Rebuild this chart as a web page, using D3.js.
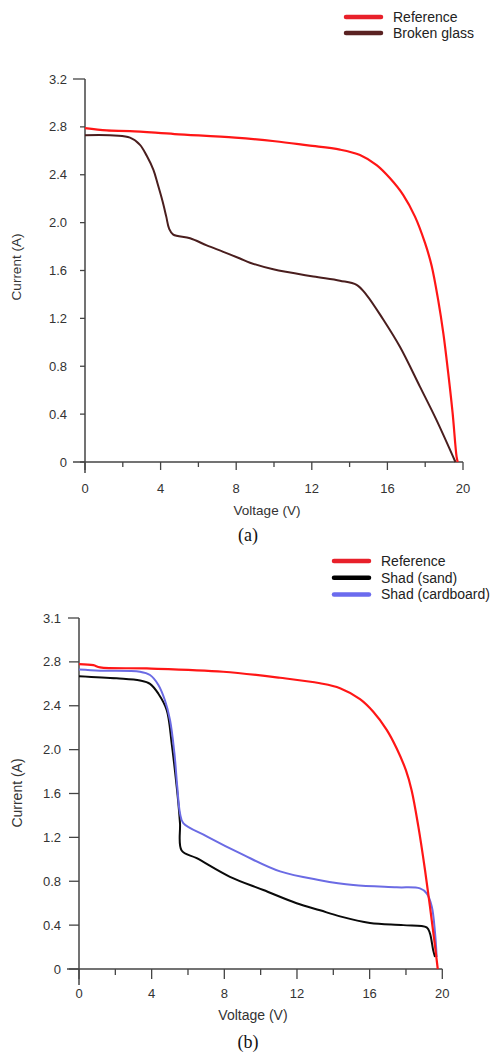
<!DOCTYPE html>
<html><head><meta charset="utf-8">
<script src="https://cdn.jsdelivr.net/npm/d3@7"></script>
<style>body{margin:0;background:#fff}svg{display:block}</style>
</head><body>
<svg id="c" width="491" height="1052"></svg>
<script>
// ---- Data: chart (a) ----
const voltsRefA = [0, 1.15, 2.38, 4.74, 7.94, 10.05, 11.8, 13.49, 14.55, 15.43, 16.14, 16.84, 17.46, 17.99, 18.34, 18.69, 18.96, 19.22, 19.45, 19.66, 19.72];
const currRefA  = [2.79, 2.77, 2.765, 2.74, 2.71, 2.68, 2.645, 2.61, 2.565, 2.48, 2.37, 2.23, 2.05, 1.83, 1.64, 1.35, 1.075, 0.74, 0.41, 0.045, 0];
const voltsGlass = [0, 2.38, 2.91, 3.26, 3.62, 3.85, 4.1, 4.3, 4.45, 4.67, 5.56, 6.44, 7.32, 8.2, 8.73, 9.96, 12.08, 13.49, 14.37, 14.9, 15.78, 16.67, 17.72, 18.6, 19.6];
const currGlass  = [2.73, 2.71, 2.65, 2.56, 2.44, 2.32, 2.18, 2.05, 1.95, 1.90, 1.87, 1.81, 1.756, 1.70, 1.665, 1.61, 1.55, 1.515, 1.48, 1.395, 1.19, 0.96, 0.63, 0.35, 0];
const xTicksA = [0, 4, 8, 12, 16, 20];
const xMinorA = [2, 6, 10, 14, 18];
const yTicksA = [0, 0.4, 0.8, 1.2, 1.6, 2.0, 2.4, 2.8, 3.2];
const yLabelsA = ["0", "0.4", "0.8", "1.2", "1.6", "2.0", "2.4", "2.8", "3.2"];
const seriesNamesA = ["Reference", "Broken glass"];

// ---- Data: chart (b) ----
const voltsRefB = [0, 0.79, 1.16, 3.73, 7.94, 11.07, 13.27, 14.37, 15.47, 16.2, 16.94, 17.49, 18.0, 18.31, 18.68, 19.05, 19.32, 19.56, 19.75];
const currRefB  = [2.78, 2.77, 2.75, 2.74, 2.71, 2.655, 2.605, 2.56, 2.46, 2.345, 2.18, 2.01, 1.81, 1.63, 1.30, 0.90, 0.57, 0.26, 0];
const voltsSand = [0, 2.07, 3.36, 3.91, 4.37, 4.83, 5.1, 5.28, 5.47, 5.56, 5.65, 6.48, 8.31, 10.15, 11.98, 13.27, 14.37, 16.02, 17.85, 19.14, 19.32, 19.5, 19.6];
const currSand  = [2.67, 2.65, 2.63, 2.60, 2.51, 2.36, 2.06, 1.81, 1.51, 1.33, 1.08, 1.01, 0.84, 0.72, 0.60, 0.535, 0.48, 0.42, 0.40, 0.38, 0.325, 0.17, 0.11];
const voltsCard = [0, 1.16, 3.36, 3.91, 4.37, 4.73, 5.01, 5.25, 5.41, 5.56, 5.74, 7.03, 9.05, 11.07, 13.27, 15.1, 17.49, 18.77, 19.14, 19.42, 19.6, 19.69];
const currCard  = [2.73, 2.72, 2.71, 2.68, 2.59, 2.45, 2.27, 1.97, 1.66, 1.42, 1.33, 1.21, 1.04, 0.89, 0.81, 0.765, 0.745, 0.735, 0.69, 0.57, 0.33, 0.11];
const xTicksB = [0, 4, 8, 12, 16, 20];
const xMinorB = [2, 6, 10, 14, 18];
const yTicksB = [0, 0.4, 0.8, 1.2, 1.6, 2.0, 2.4, 2.8, 3.2];
const yLabelsB = ["0", "0.4", "0.8", "1.2", "1.6", "2.0", "2.4", "2.8", "3.1"];
const seriesNamesB = ["Reference", "Shad (sand)", "Shad (cardboard)"];

const svg = d3.select("#c");
const FONT = "'Liberation Sans', Arial, sans-serif";
const AX = "#444";
const TXT = "#333";

function zip(xs, ys) { return xs.map((x, i) => [x, ys[i]]); }

function drawChart(cfg) {
  const g = svg.append("g");
  const x = cfg.x, y = cfg.y;
  const y0 = y(0), x0 = x(0);
  g.append("line").attr("x1", cfg.xAxisStart).attr("x2", x(20)).attr("y1", y0).attr("y2", y0)
    .attr("stroke", AX).attr("stroke-width", 1.5);
  g.append("line").attr("x1", x0).attr("x2", x0).attr("y1", y.range()[1]).attr("y2", cfg.yAxisEnd)
    .attr("stroke", AX).attr("stroke-width", 1.5);
  g.selectAll(null).data(cfg.xTicks).join("line")
    .attr("x1", d => x(d)).attr("x2", d => x(d)).attr("y1", y0).attr("y2", y0 + cfg.majorLen)
    .attr("stroke", AX).attr("stroke-width", 1.3);
  g.selectAll(null).data(cfg.xMinor).join("line")
    .attr("x1", d => x(d)).attr("x2", d => x(d)).attr("y1", y0).attr("y2", y0 + cfg.minorLen)
    .attr("stroke", AX).attr("stroke-width", 1.3);
  g.selectAll(null).data(cfg.xTicks).join("text")
    .attr("x", d => x(d)).attr("y", y0 + cfg.xLabelDy)
    .attr("text-anchor", "middle").attr("font-family", FONT).attr("font-size", cfg.tickFont)
    .attr("fill", TXT).text(d => d);
  g.selectAll(null).data(cfg.yTicks).join("line")
    .attr("x1", (d, i) => x0 - ((i === cfg.yTicks.length - 1) ? cfg.yTopLen : cfg.yTickLen)).attr("x2", x0)
    .attr("y1", d => y(d)).attr("y2", d => y(d))
    .attr("stroke", AX).attr("stroke-width", 1.3);
  g.selectAll(null).data(cfg.yTicks).join("text")
    .attr("x", cfg.yLabelX).attr("y", d => y(d) + 4.5)
    .attr("text-anchor", "end").attr("font-family", FONT).attr("font-size", cfg.tickFont)
    .attr("fill", TXT).text((d, i) => cfg.yLabels[i]);
  g.append("text").attr("x", cfg.xTitle[0]).attr("y", cfg.xTitle[1]).attr("text-anchor", "middle")
    .attr("font-family", FONT).attr("font-size", cfg.titleFont).attr("fill", TXT).text("Voltage (V)");
  g.append("text").attr("transform", `translate(${cfg.yTitle[0]},${cfg.yTitle[1]}) rotate(-90)`)
    .attr("text-anchor", "middle").attr("font-family", FONT).attr("font-size", cfg.titleFont)
    .attr("fill", TXT).text("Current (A)");
  g.append("text").attr("x", cfg.caption[0]).attr("y", cfg.caption[1]).attr("text-anchor", "middle")
    .attr("font-family", "'Liberation Serif', 'Times New Roman', serif").attr("font-size", 18)
    .attr("fill", "#111").text(cfg.captionText);
  const line = d3.line().x(d => x(d[0])).y(d => y(d[1])).curve(d3.curveCatmullRom.alpha(0.5));
  cfg.series.forEach(s => {
    g.append("path").datum(zip(s.v, s.c)).attr("d", line).attr("fill", "none")
      .attr("stroke", s.color).attr("stroke-width", s.width).attr("stroke-linejoin", "round");
  });
  cfg.legend.forEach((s, i) => {
    const ly = cfg.legendY + i * cfg.legendStep;
    g.append("line").attr("x1", cfg.legendX).attr("x2", cfg.legendX + 35).attr("y1", ly).attr("y2", ly)
      .attr("stroke", s.color).attr("stroke-width", 4.5).attr("stroke-linecap", "round");
    g.append("text").attr("x", cfg.legendX + 47).attr("y", ly + 5).attr("font-family", FONT)
      .attr("font-size", 14).attr("fill", "#222").text(s.name);
  });
}

const RED = "#ff1616", BROWN = "#4a1e1e", BLACK = "#0a0a0a", BLUE = "#6b6be4";

drawChart({
  x: d3.scaleLinear([0, 20], [85, 463]),
  y: d3.scaleLinear([0, 3.2], [462, 79]),
  xAxisStart: 73, yAxisEnd: 473,
  xTicks: xTicksA, xMinor: xMinorA, majorLen: 8, minorLen: 5, xLabelDy: 31,
  yTicks: yTicksA, yLabels: yLabelsA, yTickLen: 5, yTopLen: 12, yLabelX: 67,
  tickFont: 13, titleFont: 13.5,
  xTitle: [267, 515], yTitle: [21, 267], caption: [248, 541], captionText: "(a)",
  series: [
    { v: voltsGlass, c: currGlass, color: BROWN, width: 2 },
    { v: voltsRefA, c: currRefA, color: RED, width: 2.2 }
  ],
  legend: [{ name: seriesNamesA[0], color: "#e8202a" }, { name: seriesNamesA[1], color: "#5a2222" }],
  legendX: 346, legendY: 17, legendStep: 16
});

drawChart({
  x: d3.scaleLinear([0, 20], [79, 442.3]),
  y: d3.scaleLinear([0, 3.2], [969, 618]),
  xAxisStart: 67, yAxisEnd: 985,
  xTicks: xTicksB, xMinor: xMinorB, majorLen: 10, minorLen: 6, xLabelDy: 29,
  yTicks: yTicksB, yLabels: yLabelsB, yTickLen: 10, yTopLen: 11, yLabelX: 61,
  tickFont: 13, titleFont: 14,
  xTitle: [253, 1020], yTitle: [22, 793], caption: [248, 1048], captionText: "(b)",
  series: [
    { v: voltsSand, c: currSand, color: BLACK, width: 2 },
    { v: voltsCard, c: currCard, color: BLUE, width: 2 },
    { v: voltsRefB, c: currRefB, color: RED, width: 2.2 }
  ],
  legend: [{ name: seriesNamesB[0], color: "#e8202a" }, { name: seriesNamesB[1], color: "#000" }, { name: seriesNamesB[2], color: "#6b6bee" }],
  legendX: 334, legendY: 561, legendStep: 16.7
});
</script>
</body></html>
